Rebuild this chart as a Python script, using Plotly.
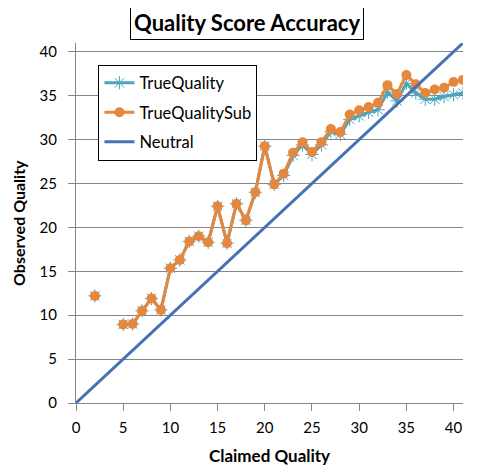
import plotly.graph_objects as go

claimed = [2, 3, 4, 5, 6, 7, 8, 9, 10, 11, 12, 13, 14, 15, 16, 17, 18, 19, 20, 21, 22, 23,
           24, 25, 26, 27, 28, 29, 30, 31, 32, 33, 34, 35, 36, 37, 38, 39, 40, 41]
true_quality_sub = [12.2, None, None, 8.95, 9.0, 10.5, 11.9, 10.6, 15.35, 16.3, 18.4, 19.0, 18.3, 22.4,
                    18.2, 22.7, 20.8, 24.0, 29.25, 24.9, 26.1, 28.5, 29.7, 28.6, 29.7, 31.2,
                    30.85, 32.85, 33.35, 33.7, 34.2, 36.2, 35.2, 37.35, 36.3, 35.3, 35.7,
                    35.9, 36.55, 36.8]
true_quality = [12.2, None, None, 8.95, 9.0, 10.5, 11.9, 10.6, 15.35, 16.3, 18.4, 19.0, 18.3, 22.4,
                18.2, 22.7, 20.8, 24.0, 29.25, 24.9, 25.9, 28.2, 29.4, 28.3, 29.4, 30.9,
                30.6, 32.3, 32.7, 33.1, 33.4, 35.4, 34.4, 36.4, 35.3, 34.6, 34.6,
                34.9, 35.1, 35.3]
neutral_x = [0, 41]
neutral_y = [0, 41]

FONT = "Lato"
GRID = "#868686"

fig = go.Figure()
fig.add_trace(go.Scatter(
    x=claimed, y=true_quality, name="TrueQuality", mode="lines+markers",
    line=dict(color="#4BA5C0", width=3), connectgaps=False,
    marker=dict(symbol="asterisk-open", size=11, line=dict(color="#4BA5C0", width=1)),
    legendgroup="a"))
fig.add_trace(go.Scatter(
    x=claimed, y=true_quality_sub, name="TrueQualitySub", mode="lines+markers",
    line=dict(color="#E5873C", width=3), connectgaps=False,
    marker=dict(symbol="circle", size=10, color="#E5873C"),
    legendgroup="b"))
fig.add_trace(go.Scatter(
    x=neutral_x, y=neutral_y, name="Neutral", mode="lines",
    line=dict(color="#4472B4", width=3),
    legendgroup="c"))

fig.update_layout(
    width=486, height=463,
    margin=dict(l=67.5, r=30.7, t=35.3, b=67.7, autoexpand=False),
    paper_bgcolor="white", plot_bgcolor="white",
    font=dict(family=FONT, size=15, color="black"),
    showlegend=True,
    legend=dict(x=0.058, y=0.94, xanchor="left", yanchor="top",
                bordercolor="black", borderwidth=1, bgcolor="white",
                font=dict(family=FONT, size=16.5, color="black"),
                itemwidth=30, tracegroupgap=5, traceorder="grouped"),
    annotations=[
        dict(text="<b>Quality Score Accuracy</b>", xref="paper", yref="paper",
             x=0.442, y=1.0578, xanchor="center", yanchor="middle",
             showarrow=False, font=dict(family=FONT, size=22, color="black"),
             bordercolor="black", borderwidth=1, borderpad=3, bgcolor="white"),
        dict(text="<b>Observed Quality</b>", xref="paper", yref="paper",
             x=0, y=0.5, xshift=-58, xanchor="center", yanchor="middle", textangle=-90,
             showarrow=False, font=dict(family=FONT, size=16, color="black")),
    ],
)
fig.update_xaxes(range=[0, 41], tick0=0, dtick=5, showgrid=False, zeroline=False,
                 showline=True, linecolor=GRID, linewidth=1, automargin=False,
                 ticks="outside", ticklen=7, tickcolor=GRID, ticklabelstandoff=4,
                 title=dict(text="<b>Claimed Quality</b>", font=dict(family=FONT, size=17)))
fig.update_yaxes(range=[0, 41], tick0=0, dtick=5, showgrid=True, gridcolor=GRID, gridwidth=1,
                 zeroline=False, showline=True, linecolor=GRID, linewidth=1, automargin=False,
                 ticks="outside", ticklen=7, tickcolor=GRID, ticklabelstandoff=8)

fig.write_html("out.html")
